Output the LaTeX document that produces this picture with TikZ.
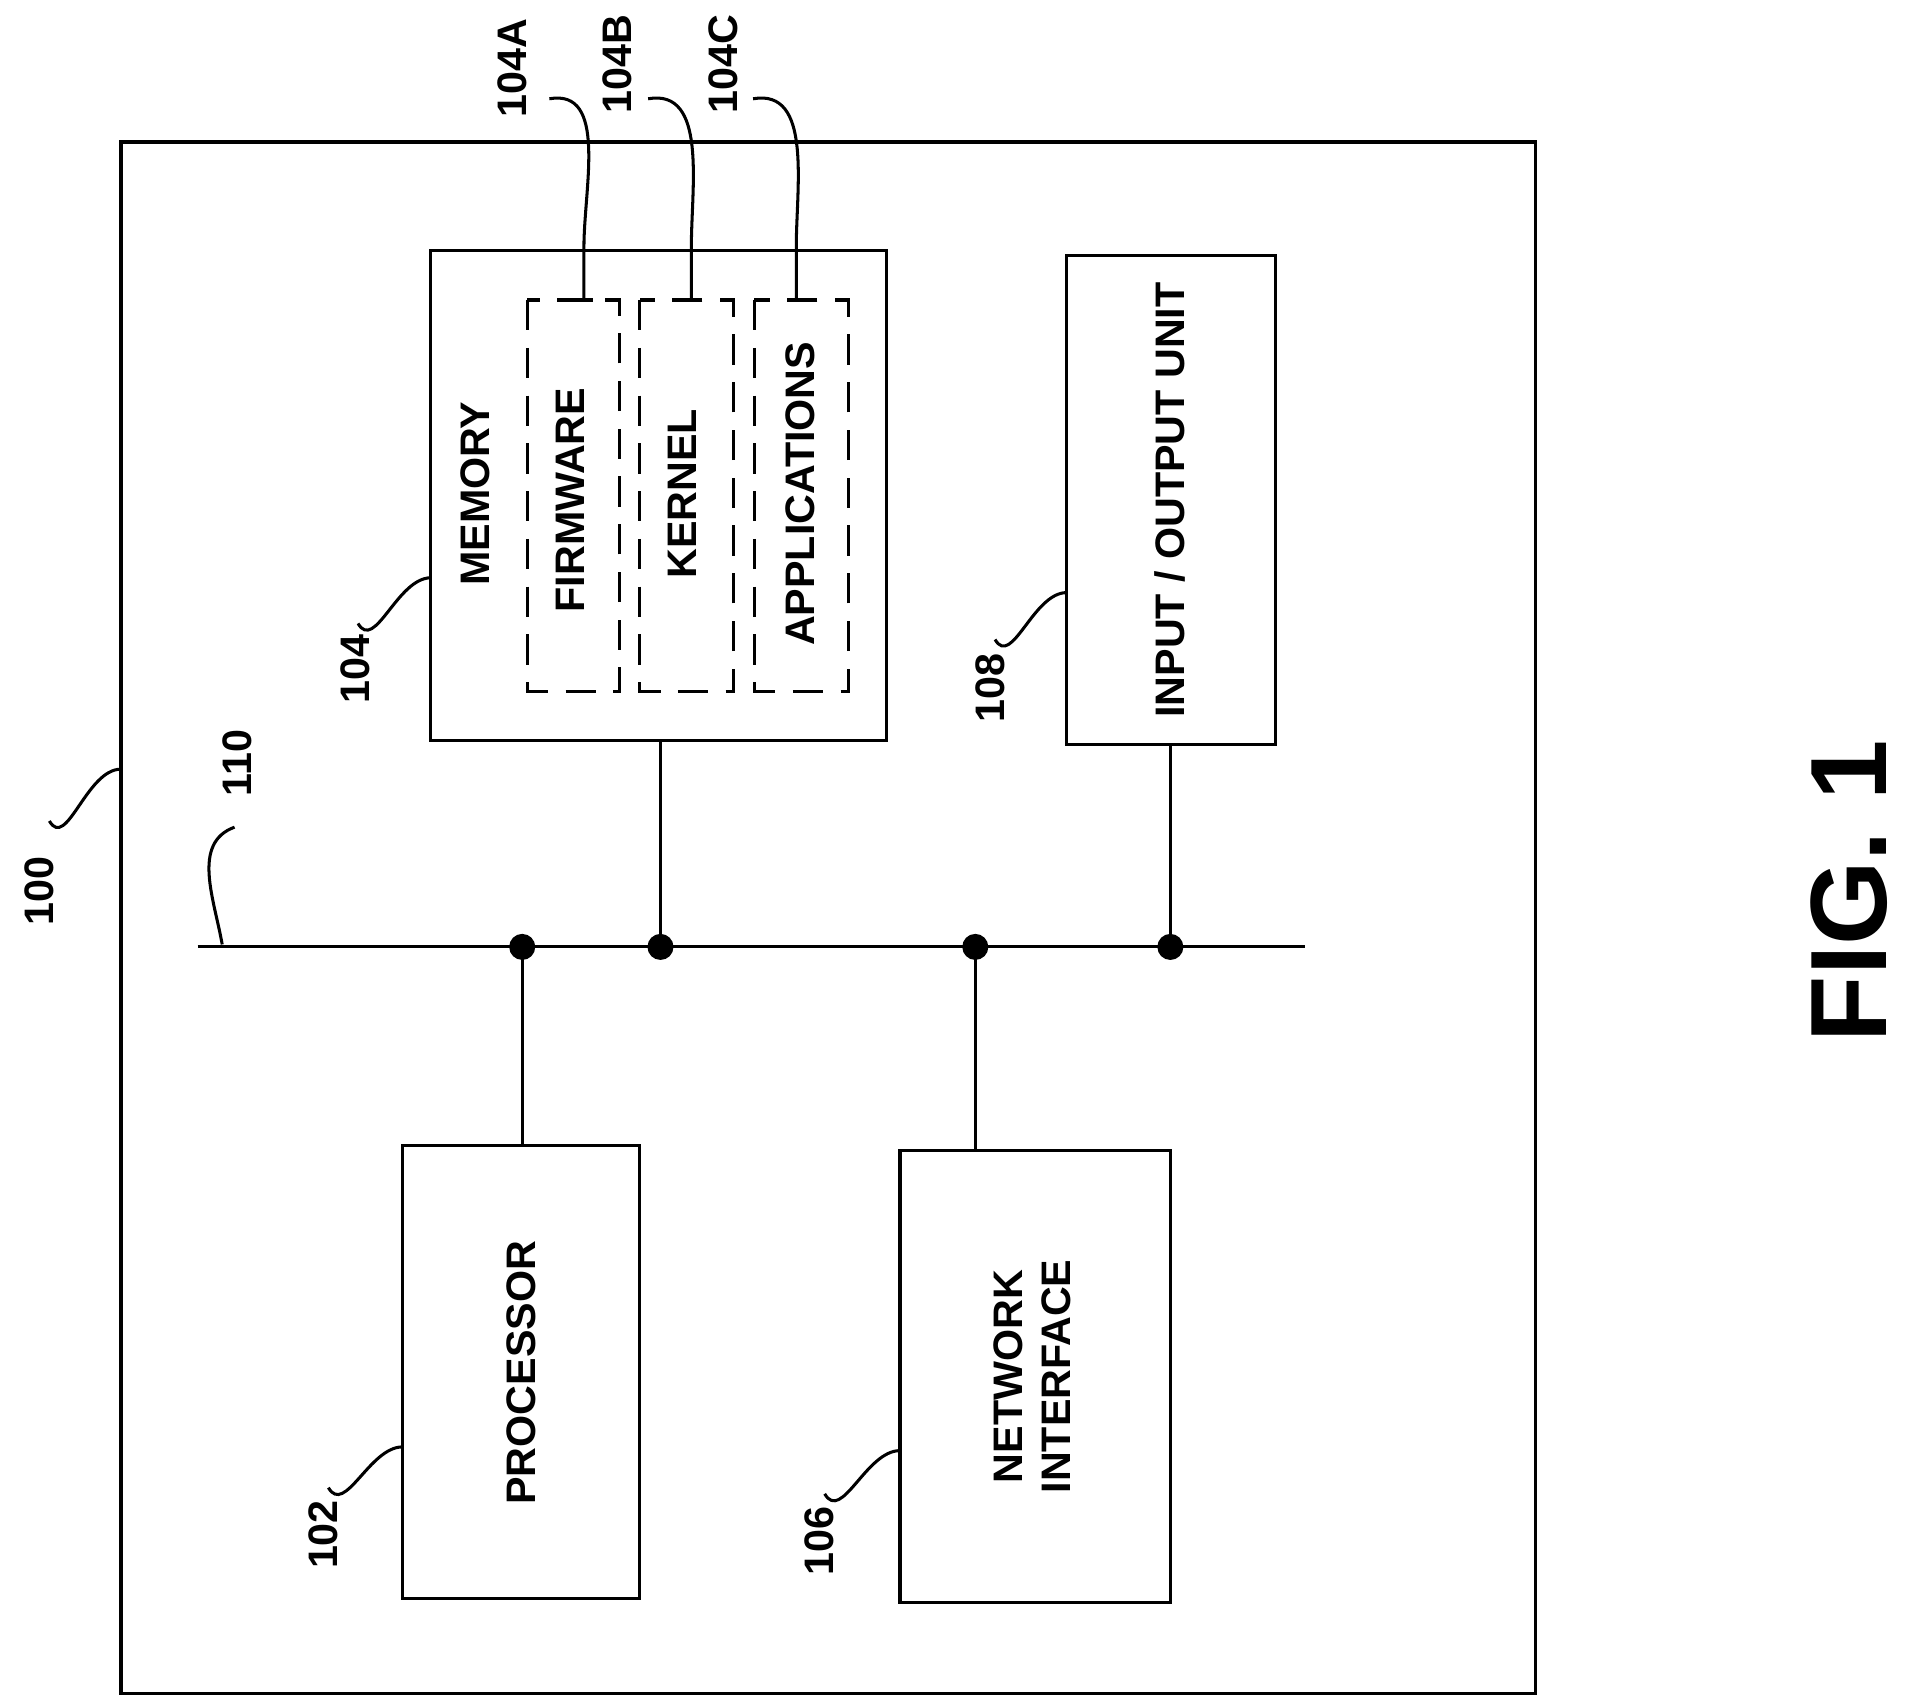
\documentclass[tikz,border=0pt]{standalone}
\usepackage{fontspec}
\setmainfont{Liberation Sans}
\usetikzlibrary{calc}
\begin{document}
\begin{tikzpicture}[x=0.01cm, y=-0.01cm, line width=0.7pt,
	box/.style = {draw},
	sub/.style = {draw, dashed, dash pattern=on 7pt off 4pt},
	lbl/.style = {rotate=90, font=\fontsize{9.5}{11}\bfseries\selectfont, align=center},
	ref/.style = {rotate=90, font=\fontsize{9.5}{11}\bfseries\selectfont},
	dot/.style = {circle, fill, inner sep=0pt, minimum size=6pt}]
	\useasboundingbox (0,0) rectangle (1552,1378);

	% boxes
	\draw [box] (98,115) rectangle (1244,1372);
	\draw [box] (349,203) rectangle (718,600);
	\draw [sub] (427,243) rectangle (502,560);
	\draw [sub] (518,243) rectangle (594,560);
	\draw [sub] (611,243) rectangle (687,560);
	\draw [box] (864,207) rectangle (1033,603);
	\draw [box] (326,928) rectangle (518,1295);
	\draw [box] (729,932) rectangle (948,1298);

	% texts
	\node [lbl] (mem) at (385,400) {MEMORY};
	\node [lbl] (fw) at (462,405) {FIRMWARE};
	\node [lbl] (kn) at (553,400) {KERNEL};
	\node [lbl] (app) at (648,400) {APPLICATIONS};
	\node [lbl] (io) at (948,405) {INPUT / OUTPUT UNIT};
	\node [lbl] (proc) at (422,1112) {PROCESSOR};
	\node [lbl] (net) at (836,1115) {NETWORK\\INTERFACE};
	\node [rotate=90, font=\fontsize{25}{27}\bfseries\selectfont] (fig) at (1498,722) {FIG. 1};

	% bus
	\coordinate (busL) at (160,767);
	\coordinate (busR) at (1057,767);
	\draw (busL) -- (busR);
	\foreach \x/\y in {423/928, 790/932}
	{
		\draw (\x,767) node [dot] {} -- (\x,\y);
	}
	\foreach \x/\y in {535/600, 948/603}
	{
		\draw (\x,767) node [dot] {} -- (\x,\y);
	}

	% reference numerals
	\node [ref] (r100) at (32,722) {100};
	\draw (40,665) to [out=-60, in=180] (98,623);
	\node [ref] (r110) at (192,618) {110};
	\draw (190,670) to [out=200, in=100] (180,765);
	\node [ref] (r104) at (288,542) {104};
	\draw (290,505) to [out=-60, in=180] (349,468);
	\node [ref] (r102) at (262,1243) {102};
	\draw (266,1205) to [out=-60, in=180] (326,1172);
	\node [ref] (r106) at (664,1248) {106};
	\draw (668,1210) to [out=-60, in=180] (729,1175);
	\node [ref] (r108) at (802,557) {108};
	\draw (806,518) to [out=-60, in=180] (864,480);

	\node [ref] (r104a) at (415,55) {104A};
	\draw (445,80) to [out=10, in=90] (473,200) -- (473,243);
	\draw (466,243) -- (480,243);
	\node [ref] (r104b) at (500,52) {104B};
	\draw (525,80) to [out=10, in=90] (560,200) -- (560,243);
	\draw (553,243) -- (567,243);
	\node [ref] (r104c) at (586,52) {104C};
	\draw (610,80) to [out=10, in=90] (645,200) -- (645,243);
	\draw (638,243) -- (652,243);
\end{tikzpicture}
\end{document}
